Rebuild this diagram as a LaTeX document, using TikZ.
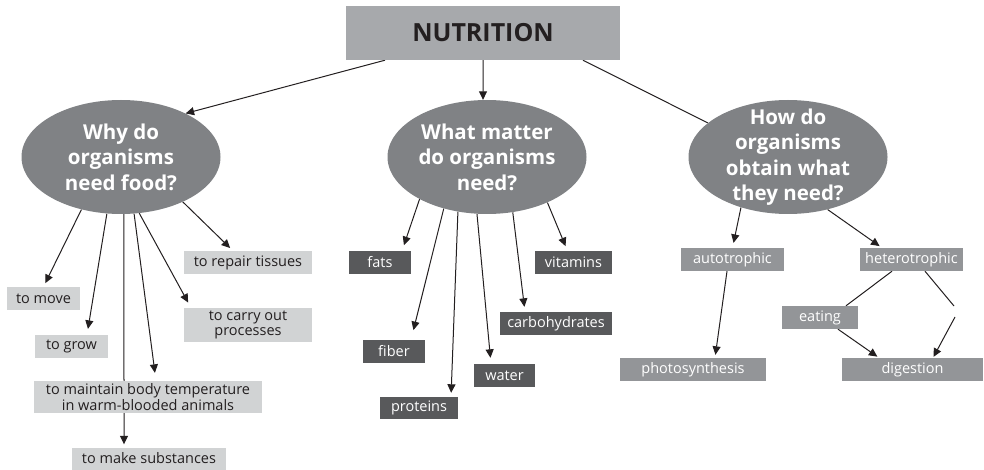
\documentclass[tikz,border=0pt]{standalone}
\usepackage{fontspec}
\setmainfont{Open Sans}
\usetikzlibrary{positioning,arrows.meta,backgrounds,shapes.geometric}
\definecolor{topicgray}{HTML}{A7A9AC}
\definecolor{ovalgray}{HTML}{808285}
\definecolor{reasongray}{HTML}{D1D3D4}
\definecolor{mattergray}{HTML}{58595B}
\definecolor{waygray}{HTML}{939598}
\definecolor{inkblack}{HTML}{231F20}
\tikzset{
    topic/.style={rectangle, fill=topicgray, text=inkblack, minimum width=274pt, minimum height=54pt, inner sep=0pt, font=\fontsize{25}{30}\selectfont\bfseries},
    question/.style={ellipse, fill=ovalgray, text=white, align=center, inner xsep=0pt, inner ysep=-12pt, minimum width=199pt, minimum height=114pt, font=\fontsize{20.5}{25.5}\selectfont\bfseries},
    reason/.style={rectangle, fill=reasongray, text=inkblack, minimum height=23pt, inner sep=0pt, align=center, font=\fontsize{14.5}{15.5}\selectfont},
    matter/.style={rectangle, fill=mattergray, text=white, minimum height=23pt, inner sep=0pt, font=\fontsize{14.5}{15.5}\selectfont},
    way/.style={rectangle, fill=waygray, text=white, minimum height=23pt, inner sep=0pt, font=\fontsize{14.5}{15.5}\selectfont},
    line/.style={-{Triangle[length=8.5pt,width=8pt]}, line width=1pt, draw=inkblack},
    plain/.style={line width=1pt, draw=inkblack},
}
\begin{document}
\begin{tikzpicture}[x=1pt,y=-1pt]
        \useasboundingbox (0,0) rectangle (984,470);

        % Top of the map
        \node[topic] (nutrition) at (483,33) {NUTRITION};

        % The three questions
        \node[question] (why) at (121,157) {Why do\\organisms\\need food?};
        \node[question] (what) at (487,157) {What matter\\do organisms\\need?};
        \node[question] (how) at (788,157) {How do\\organisms\\obtain what\\they need?};

        % Why do organisms need food
        \node[reason, minimum width=128pt] (repair) at (248,262.5) {to repair tissues};
        \node[reason, minimum width=73pt] (move) at (43.5,298.5) {to move};
        \node[reason, minimum width=73pt] (grow) at (71.5,346.5) {to grow};
        \node[reason, minimum width=128pt, minimum height=34pt] (carry) at (248,325) {to carry out\\processes};
        \node[reason, minimum width=228pt, minimum height=32pt] (maintain) at (148,397) {to maintain body temperature\\in warm-blooded animals};
        \node[reason, minimum width=154pt, minimum height=22pt] (make) at (149,458.5) {to make substances};

        % What matter do organisms need
        \node[matter, minimum width=62pt] (fats) at (380,262.5) {fats};
        \node[matter, minimum width=62pt] (fiber) at (394,351.5) {fiber};
        \node[matter, minimum width=78pt, minimum height=22pt] (proteins) at (419,408) {proteins};
        \node[matter, minimum width=61pt] (water) at (504.5,375.5) {water};
        \node[matter, minimum width=112pt] (carbs) at (556,323.5) {carbohydrates};
        \node[matter, minimum width=77pt] (vitamins) at (573.5,262.5) {vitamins};

        % How do organisms obtain what they need
        \node[way, minimum width=103pt] (auto) at (732.5,259.5) {autotrophic};
        \node[way, minimum width=103pt] (hetero) at (911.5,259.5) {heterotrophic};
        \node[way, minimum width=76pt] (eating) at (820,317.5) {eating};
        \node[way, minimum width=146pt] (photo) at (693,369.5) {photosynthesis};
        \node[way, minimum width=141pt] (digest) at (912.5,369.5) {digestion};

        % Ends of the broken line
        \coordinate (breakA) at (954,306);
        \coordinate (breakB) at (955,317);

        \begin{scope}[on background layer]
        % Arrows from the topic
        \draw[line] ([xshift=-98pt]nutrition.south) -- (why.34);
        \draw[line] (nutrition.south) -- (what.94);
        \draw[plain] ([xshift=100pt]nutrition.south) -- (how.157);

        % Arrows of the first question
        \draw[line, shorten >=4pt] (why.324) -- ([xshift=-15pt]repair.north);
        \draw[line, shorten >=4pt] (why.233) -- (move.north);
        \draw[line, shorten >=6pt] (why.256) -- ([xshift=15.5pt]grow.north);
        \draw[line, shorten >=3pt] (why.273) -- ([xshift=-25pt]make.north);
        \draw[line, shorten >=8pt] (why.283) -- ([xshift=8pt]maintain.north);
        \draw[line, shorten >=6pt] (why.288) -- ([xshift=-57pt]carry.north);

        % Arrows of the second question
        \draw[line, shorten >=6pt] (what.212) -- ([xshift=22pt]fats.north);
        \draw[line, shorten >=10pt] (what.230) -- ([xshift=17pt]fiber.north);
        \draw[line, shorten >=4pt] (what.242) -- ([xshift=32pt]proteins.north);
        \draw[line, shorten >=6pt] (what.260) -- ([xshift=-13.5pt]water.north);
        \draw[line, shorten >=5pt] (what.295) -- ([xshift=-31pt]carbs.north);
        \draw[line, shorten >=5pt] (what.323) -- ([xshift=-6pt]vitamins.north);

        % Arrows of the third question
        \draw[line, shorten >=5pt] (how.227) -- (auto.north);
        \draw[line, shorten >=3pt] (how.307) -- ([xshift=-29.5pt]hetero.north);
        \draw[line, shorten >=3pt] ([xshift=-5.5pt]auto.south) -- ([xshift=22pt]photo.north);
        \draw[plain] ([xshift=-19.5pt]hetero.south) -- ([xshift=26pt]eating.north);
        \draw[line, shorten >=2pt] ([xshift=18pt]eating.south) -- ([xshift=-33.5pt]digest.north);
        \draw[plain] ([xshift=13.5pt]hetero.south) -- (breakA);
        \draw[line, shorten >=1pt] (breakB) -- ([xshift=20.5pt]digest.north);
        \end{scope}
\end{tikzpicture}
\end{document}
